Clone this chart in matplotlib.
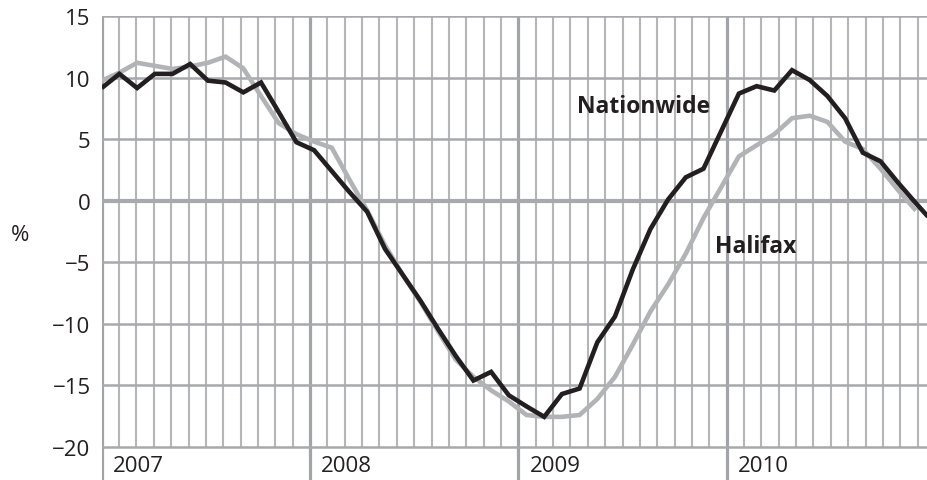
import matplotlib
matplotlib.use("Agg")
import matplotlib.pyplot as plt
import numpy as np

plt.rcParams['font.family'] = ['Open Sans', 'DejaVu Sans']

# Monthly annual house-price change (%), Jan 2007 onwards
nationwide = [9.15, 10.3, 9.15, 10.3, 10.3, 11.1, 9.75, 9.6, 8.8, 9.6, 7.2, 4.75,
              4.1, 2.4, 0.7, -0.9, -3.9, -6.0, -8.1, -10.4, -12.6, -14.6, -13.9, -15.8,
              -16.7, -17.55, -15.7, -15.25, -11.5, -9.4, -5.6, -2.3, 0.1, 1.9, 2.6, 5.65,
              8.7, 9.3, 8.95, 10.6, 9.8, 8.5, 6.7, 3.9, 3.2, 1.45, -0.2, -1.8]
halifax = [9.75, 10.4, 11.2, 10.95, 10.7, 10.9, 11.2, 11.7, 10.75, 8.5, 6.3, 5.4,
           4.8, 4.3, 1.7, -0.8, -3.6, -6.0, -8.2, -10.6, -12.9, -14.3, -15.4, -16.3,
           -17.4, -17.55, -17.55, -17.4, -16.1, -14.3, -11.7, -9.0, -6.8, -4.3, -1.4, 1.1,
           3.6, 4.5, 5.4, 6.7, 6.9, 6.4, 4.8, 4.2, 2.6, 0.85, -0.8]
years = ["2007", "2008", "2009", "2010"]
yticks = [-20, -15, -10, -5, 0, 5, 10, 15]

W, H = 927, 481
fig = plt.figure(figsize=(W / 100, H / 100), dpi=100)
left_px, top_px = 101.7, 17
ax = fig.add_axes([left_px / W, 0, 1 - left_px / W, (H - top_px) / H])

month_px = 17.36
data_px = 17.7
px_per_unit = 431 / 35.0
ymin = -20 - (H - 448) / px_per_unit
ax.set_ylim(ymin, 15)
ax.set_xlim(0, (W - left_px) / month_px)

gcol = '#a7a9ac'
# monthly vertical grid
months = np.arange(0, 48)
mon = [m for m in months if m % 12 != 0]
ax.vlines(mon, -20, 15, color='#b4b6b8', lw=1.5, zorder=1)
ax.vlines([0, 12, 24, 36], ymin, 15, color='#a2a4a7', lw=2.3, zorder=2)
# horizontal grid
for yv in yticks:
    ax.axhline(yv, color=gcol, lw=3.0 if yv == 0 else 1.8, zorder=2)

for s in ax.spines.values():
    s.set_visible(False)
ax.set_xticks([])
ax.set_yticks(yticks)
ax.set_yticklabels([str(v).replace('-', '\u2212') for v in yticks])
ax.tick_params(axis='y', length=0, pad=8, labelsize=16, labelcolor='#231f20')

for i, yr in enumerate(years):
    ax.annotate(yr, xy=(12 * i, -20), xytext=(8, -13.5), textcoords='offset points',
                ha='left', va='center', fontsize=16, color='#231f20')

fig.text(20 / W, 1 - 236 / H, '%', ha='center', va='center', fontsize=16, color='#231f20')

# data axis
ax2 = ax.twiny()
ax2.set_xlim(0, (W - left_px) / data_px)
ax2.set_ylim(ymin, 15)
ax2.plot(np.arange(len(halifax)), halifax, color='#b1b3b6', lw=3.3,
         solid_joinstyle='miter', solid_capstyle='butt', zorder=3)
ax2.plot(np.arange(len(nationwide)), nationwide, color='#231f20', lw=3.3,
         solid_joinstyle='miter', solid_capstyle='butt', zorder=4)
ax2.set_xticks([])
for s in ax2.spines.values():
    s.set_visible(False)

ax.text((577 - left_px) / month_px, 15 - (107.5 - top_px) / px_per_unit, 'Nationwide',
        ha='left', va='center', fontsize=16.5, fontweight='bold', color='#231f20', zorder=5)
ax.text((715 - left_px) / month_px, 15 - (247 - top_px) / px_per_unit, 'Halifax',
        ha='left', va='center', fontsize=16.5, fontweight='bold', color='#231f20', zorder=5)

fig.savefig('out.png', dpi=100)
